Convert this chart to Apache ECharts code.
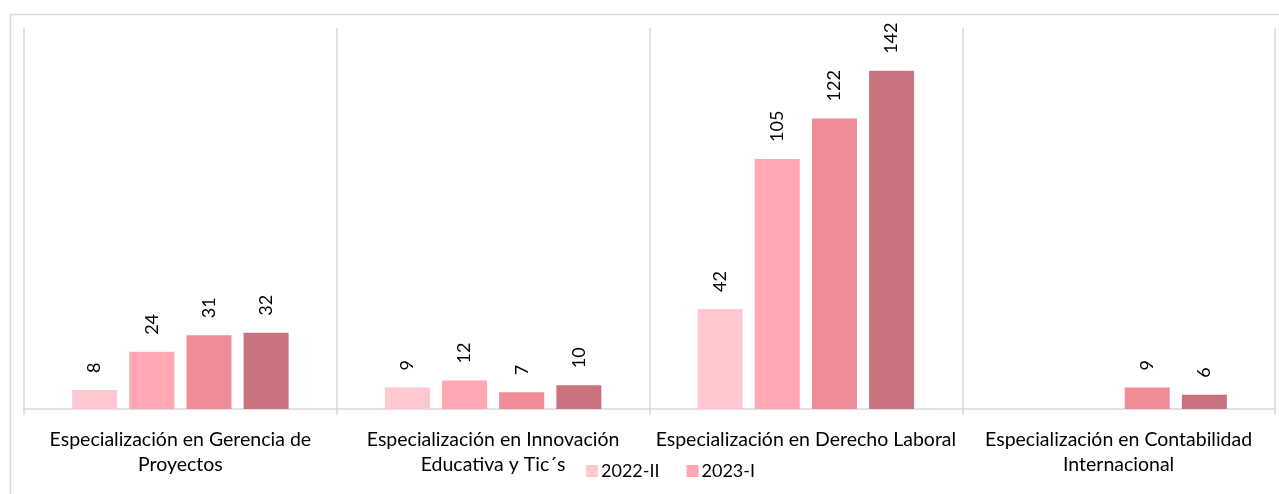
<!DOCTYPE html>
<html>
<head>
<meta charset="utf-8">
<script src="https://cdn.jsdelivr.net/npm/echarts@6/dist/echarts.min.js"></script>
<style>
  html, body { margin: 0; padding: 0; background: #fff; }
  #chart { width: 1279px; height: 494px; }
</style>
</head>
<body>
<div id="chart"></div>
<script>
// programas (saltos de linea como en el original)
var categorias = [
    "Especialización en Gerencia de\nProyectos",
    "Especialización en Innovación\nEducativa y Tic´s",
    "Especialización en Derecho Laboral",
    "Especialización en Contabilidad\nInternacional"
];
var periodos = ["2022-II", "2023-I", "2023-II", "2024-I"];
var s2022II = [8, 9, 42, null];
var s2023I = [24, 12, 105, null];
var s2023II = [31, 7, 122, 9];
var s2024I = [32, 10, 142, 6];
var colores = ["#FFC7CE", "#FFA8B3", "#EE8C97", "#C8737D"];

var fuente = "Lato, 'Open Sans', sans-serif";
var gris = "#d9d9d9";

function serie(nombre, datos, color) {
    return {
        name: nombre,
        type: "bar",
        barWidth: 45,
        barGap: "27%",
        data: datos,
        itemStyle: {color: color},
        label: {
            show: true,
            position: "top",
            rotate: 90,
            align: "left",
            verticalAlign: "middle",
            distance: 17,
            color: "#000",
            fontFamily: fuente,
            fontSize: 18
        }
    };
}

var b = echarts.init(document.getElementById("chart"));
var option = {
    animation: false,
    textStyle: {fontFamily: fuente},
    graphic: [{
        type: "rect",
        left: 8,
        top: 12,
        shape: {width: 1300, height: 520},
        style: {fill: "none", stroke: gris, lineWidth: 1.5},
        silent: true
    }],
    legend: {
        left: 581,
        top: 457,
        itemWidth: 12,
        itemHeight: 12,
        itemGap: 27,
        icon: "rect",
        data: ["2022-II", "2023-I"],
        textStyle: {fontSize: 18, color: "#000", fontFamily: fuente, padding: [0, 0, 0, -2]}
    },
    grid: {left: 24, right: 4, top: 28, bottom: 85},
    xAxis: {
        type: "category",
        data: categorias,
        axisLine: {lineStyle: {color: gris, width: 1.5}},
        axisTick: {show: true, length: 6, lineStyle: {color: gris, width: 1.5}},
        splitLine: {show: true, lineStyle: {color: gris, width: 1.5}},
        axisLabel: {
            interval: 0,
            margin: 18,
            color: "#000",
            fontSize: 19.5,
            lineHeight: 25,
            fontFamily: fuente
        }
    },
    yAxis: {
        type: "value",
        min: 0,
        max: 160,
        show: false,
        splitLine: {show: false}
    },
    series: [
        serie(periodos[0], s2022II, colores[0]),
        serie(periodos[1], s2023I, colores[1]),
        serie(periodos[2], s2023II, colores[2]),
        serie(periodos[3], s2024I, colores[3])
    ]
};
b.setOption(option);
</script>
</body>
</html>
